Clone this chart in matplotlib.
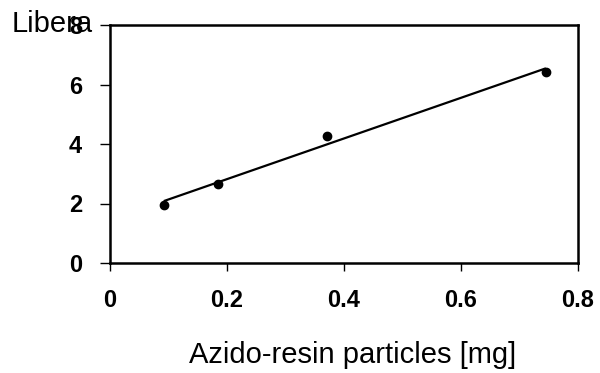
import numpy as np
import matplotlib
matplotlib.use("Agg")
import matplotlib.pyplot as plt

x_mg = [0.092, 0.185, 0.371, 0.745]
y_val = [1.96, 2.67, 4.27, 6.43]
x_ticks = [0, 0.2, 0.4, 0.6, 0.8]
x_ticklabels = ["0", "0.2", "0.4", "0.6", "0.8"]
y_ticks = [0, 2, 4, 6, 8]
y_ticklabels = ["0", "2", "4", "6", "8"]
x_label = "Azido-resin particles [mg]"
y_label = "Libera"

plt.rcParams['font.family'] = ['Liberation Sans', 'DejaVu Sans']

fig = plt.figure(figsize=(6, 3.73), dpi=100)
ax = fig.add_axes([110/600, 1-263/373, (578-110)/600, (263-25)/373])

slope, intercept = np.polyfit(x_mg, y_val, 1)
xl = np.array([min(x_mg), max(x_mg)])
ax.plot(xl, slope*xl + intercept, color='black', lw=1.6, solid_capstyle='butt')
ax.plot(x_mg, y_val, 'o', color='black', ms=6)

ax.set_xlim(0, 0.8)
ax.set_ylim(0, 8)
ax.set_xticks(x_ticks)
ax.set_xticklabels(x_ticklabels, fontsize=17, fontweight='bold')
ax.set_yticks(y_ticks)
ax.set_yticklabels(y_ticklabels, fontsize=17, fontweight='bold')
ax.tick_params(axis='x', direction='out', length=6, width=1, pad=13)
ax.tick_params(axis='y', direction='out', length=7, width=1, pad=13)
for s in ax.spines.values():
    s.set_linewidth(1.8)

fig.text(353/600, 1-355/373, x_label, ha='center', va='center', fontsize=21)
fig.text(12/600, 1-24/373, y_label, ha='left', va='center', fontsize=21)

fig.savefig("out.png", dpi=100)
